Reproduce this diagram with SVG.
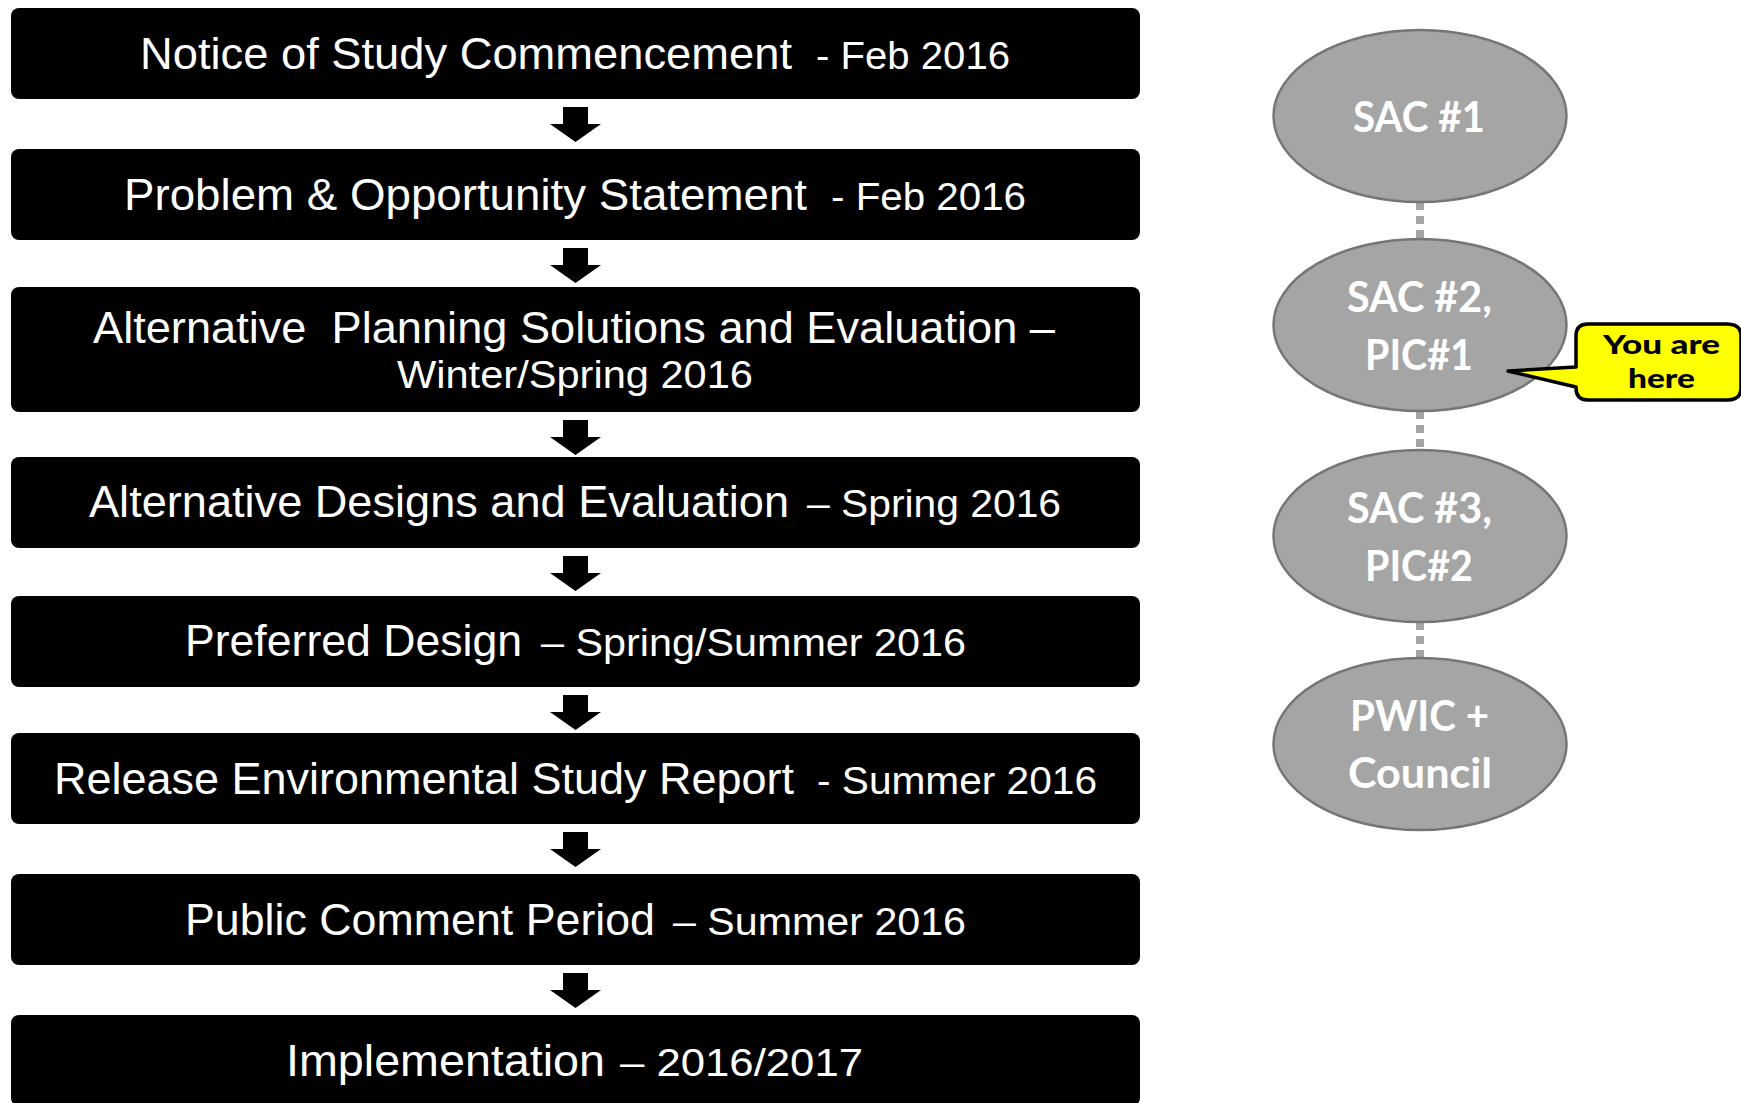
<svg xmlns="http://www.w3.org/2000/svg" xmlns:xlink="http://www.w3.org/1999/xlink" width="1741" height="1103" viewBox="0 0 1741 1103">
  <style>
    .step { fill: #000000; }
    .main { font-family: "Liberation Sans", Arial, sans-serif; font-size: 44px; fill: #ffffff; }
    .date { font-family: "Liberation Sans", Arial, sans-serif; font-size: 39px; fill: #ffffff; }
    .meet { fill: #a5a5a5; stroke: #767676; stroke-width: 2.5; }
    .meetText { font-family: Lato, "Open Sans", sans-serif; font-weight: bold; font-size: 42px; fill: #ffffff; }
    .link { stroke: #a5a5a5; stroke-width: 8; stroke-dasharray: 8 6; fill: none; }
    .arrow { fill: #000000; }
    .callout { fill: #ffff00; stroke: #000000; stroke-width: 3.5; stroke-linejoin: round; }
    .calloutText { font-family: Lato, "Liberation Sans", sans-serif; font-weight: 900; font-size: 26px; fill: #000000; }
  </style>
  <defs>
    <!-- block arrow pointing down, origin at top centre of the shaft -->
    <path id="downArrow" d="M-12.5,0 V17 H-25.5 L0,35 L25.5,17 H12.5 V0 Z"/>
  </defs>

  <rect x="0" y="0" width="1741" height="1103" fill="#ffffff"/>

  <!-- connectors -->
  <g id="connectors">
    <use xlink:href="#downArrow" class="arrow" transform="translate(575.5,107)"/>
    <use xlink:href="#downArrow" class="arrow" transform="translate(575.5,248)"/>
    <use xlink:href="#downArrow" class="arrow" transform="translate(575.5,420)"/>
    <use xlink:href="#downArrow" class="arrow" transform="translate(575.5,556)"/>
    <use xlink:href="#downArrow" class="arrow" transform="translate(575.5,695)"/>
    <use xlink:href="#downArrow" class="arrow" transform="translate(575.5,832)"/>
    <use xlink:href="#downArrow" class="arrow" transform="translate(575.5,973)"/>
    <line class="link" x1="1420" y1="202" x2="1420" y2="239"/>
    <line class="link" x1="1420" y1="411" x2="1420" y2="450"/>
    <line class="link" x1="1420" y1="622" x2="1420" y2="658"/>
  </g>

  <!-- process steps -->
  <g id="step1">
    <rect class="step" x="11" y="8" width="1129" height="91" rx="8"/>
    <text class="main" x="140" y="69" textLength="652" lengthAdjust="spacingAndGlyphs">Notice of Study Commencement</text>
    <text class="date" x="816" y="69" textLength="194" lengthAdjust="spacingAndGlyphs">- Feb 2016</text>
  </g>
  <g id="step2">
    <rect class="step" x="11" y="149" width="1129" height="91" rx="8"/>
    <text class="main" x="124" y="210" textLength="683" lengthAdjust="spacingAndGlyphs">Problem &amp; Opportunity Statement</text>
    <text class="date" x="831" y="210" textLength="195" lengthAdjust="spacingAndGlyphs">- Feb 2016</text>
  </g>
  <g id="step3">
    <rect class="step" x="11" y="287" width="1129" height="125" rx="8"/>
    <text class="main" x="93" y="343" textLength="962" lengthAdjust="spacingAndGlyphs">Alternative&#160; Planning Solutions and Evaluation –</text>
    <text class="date" x="397" y="388" textLength="356" lengthAdjust="spacingAndGlyphs">Winter/Spring 2016</text>
  </g>
  <g id="step4">
    <rect class="step" x="11" y="457" width="1129" height="91" rx="8"/>
    <text class="main" x="89" y="517" textLength="700" lengthAdjust="spacingAndGlyphs">Alternative Designs and Evaluation</text>
    <text class="date" x="807" y="517" textLength="254" lengthAdjust="spacingAndGlyphs">– Spring 2016</text>
  </g>
  <g id="step5">
    <rect class="step" x="11" y="596" width="1129" height="91" rx="8"/>
    <text class="main" x="185" y="656" textLength="337" lengthAdjust="spacingAndGlyphs">Preferred Design</text>
    <text class="date" x="541" y="656" textLength="425" lengthAdjust="spacingAndGlyphs">– Spring/Summer 2016</text>
  </g>
  <g id="step6">
    <rect class="step" x="11" y="733" width="1129" height="91" rx="8"/>
    <text class="main" x="54" y="794" textLength="740" lengthAdjust="spacingAndGlyphs">Release Environmental Study Report</text>
    <text class="date" x="817" y="794" textLength="280" lengthAdjust="spacingAndGlyphs">- Summer 2016</text>
  </g>
  <g id="step7">
    <rect class="step" x="11" y="874" width="1129" height="91" rx="8"/>
    <text class="main" x="185" y="935" textLength="470" lengthAdjust="spacingAndGlyphs">Public Comment Period</text>
    <text class="date" x="673" y="935" textLength="293" lengthAdjust="spacingAndGlyphs">– Summer 2016</text>
  </g>
  <g id="step8">
    <rect class="step" x="11" y="1015" width="1129" height="91" rx="8"/>
    <text class="main" x="286" y="1076" textLength="319" lengthAdjust="spacingAndGlyphs">Implementation</text>
    <text class="date" x="620" y="1076" textLength="243" lengthAdjust="spacingAndGlyphs">– 2016/2017</text>
  </g>

  <!-- meetings -->
  <g id="sac1">
    <ellipse class="meet" cx="1420" cy="116" rx="146.5" ry="86"/>
    <text class="meetText" x="1353" y="132" textLength="132" lengthAdjust="spacingAndGlyphs">SAC #1</text>
  </g>
  <g id="sac2">
    <ellipse class="meet" cx="1420" cy="325" rx="146.5" ry="86"/>
    <text class="meetText" x="1347" y="312" textLength="145" lengthAdjust="spacingAndGlyphs">SAC #2,</text>
    <text class="meetText" x="1365" y="370" textLength="108" lengthAdjust="spacingAndGlyphs">PIC#1</text>
  </g>
  <g id="sac3">
    <ellipse class="meet" cx="1420" cy="536" rx="146.5" ry="86"/>
    <text class="meetText" x="1347" y="523" textLength="145" lengthAdjust="spacingAndGlyphs">SAC #3,</text>
    <text class="meetText" x="1365" y="581" textLength="108" lengthAdjust="spacingAndGlyphs">PIC#2</text>
  </g>
  <g id="council">
    <ellipse class="meet" cx="1420" cy="744" rx="146.5" ry="86"/>
    <text class="meetText" x="1350" y="731" textLength="139" lengthAdjust="spacingAndGlyphs">PWIC +</text>
    <text class="meetText" x="1348" y="788" textLength="144" lengthAdjust="spacingAndGlyphs">Council</text>
  </g>

  <!-- current position marker -->
  <g id="youAreHere">
    <path class="callout" d="M1588,324 H1727 Q1741,324 1741,336 V388 Q1741,400 1727,400 H1588 Q1576,400 1576,388 V387 L1508,371 L1576,367 V336 Q1576,324 1588,324 Z"/>
    <text class="calloutText" x="1603" y="354" textLength="117" lengthAdjust="spacingAndGlyphs">You are</text>
    <text class="calloutText" x="1628" y="388" textLength="67" lengthAdjust="spacingAndGlyphs">here</text>
  </g>
</svg>
